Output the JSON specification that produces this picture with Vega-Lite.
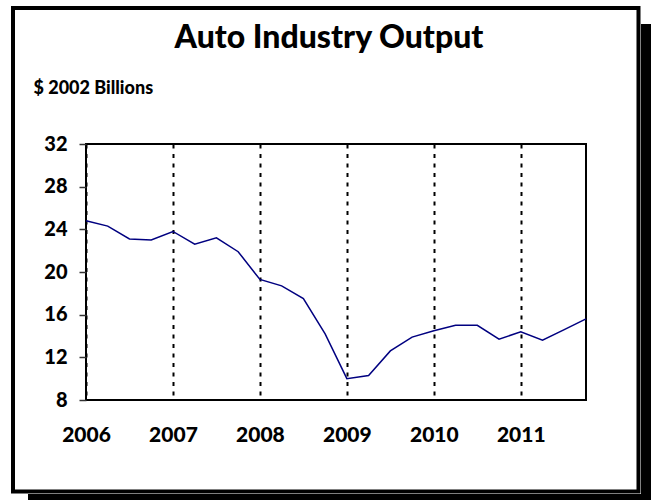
{
  "$schema": "https://vega.github.io/schema/vega-lite/v6.json",
  "width": 500,
  "height": 256,
  "autosize": {"type": "none"},
  "padding": {"left": 86, "top": 144, "right": 65, "bottom": 100},
  "background": "white",
  "title": {
    "text": "Auto Industry Output",
    "font": "Lato",
    "fontSize": 32,
    "fontWeight": 900,
    "color": "black",
    "anchor": "middle",
    "frame": "group",
    "dx": -7,
    "dy": 73,
    "offset": 24
  },
  "config": {
    "view": {"stroke": "black", "strokeWidth": 2}
  },
  "data": {
    "values": [
      {"t": 2006.0, "output": 24.8},
      {"t": 2006.25, "output": 24.3},
      {"t": 2006.5, "output": 23.1},
      {"t": 2006.75, "output": 23.0},
      {"t": 2007.0, "output": 23.8},
      {"t": 2007.25, "output": 22.6},
      {"t": 2007.5, "output": 23.2},
      {"t": 2007.75, "output": 21.9},
      {"t": 2008.0, "output": 19.3},
      {"t": 2008.25, "output": 18.7},
      {"t": 2008.5, "output": 17.5},
      {"t": 2008.75, "output": 14.2},
      {"t": 2009.0, "output": 10.0},
      {"t": 2009.25, "output": 10.3},
      {"t": 2009.5, "output": 12.6},
      {"t": 2009.75, "output": 13.9},
      {"t": 2010.0, "output": 14.5},
      {"t": 2010.25, "output": 15.0},
      {"t": 2010.5, "output": 15.0},
      {"t": 2010.75, "output": 13.7},
      {"t": 2011.0, "output": 14.4},
      {"t": 2011.25, "output": 13.6},
      {"t": 2011.5, "output": 14.6},
      {"t": 2011.75, "output": 15.6}
    ]
  },
  "layer": [
    {
      "data": {"values": [{}]},
      "mark": {"type": "rect", "color": "black"},
      "encoding": {
        "x": {"datum": 2012.3825, "type": "quantitative", "scale": {"domain": [2006, 2011.75], "nice": false, "zero": false}},
        "x2": {"datum": 2012.5435},
        "y": {"datum": 43.25, "type": "quantitative", "scale": {"domain": [8, 32], "nice": false, "zero": false}},
        "y2": {"datum": -1.844}
      }
    },
    {
      "data": {"values": [{}]},
      "mark": {"type": "rect", "color": "black"},
      "encoding": {
        "x": {"datum": 2005.333, "type": "quantitative", "scale": {"domain": [2006, 2011.75], "nice": false, "zero": false}},
        "x2": {"datum": 2012.5435},
        "y": {"datum": -0.8125, "type": "quantitative", "scale": {"domain": [8, 32], "nice": false, "zero": false}},
        "y2": {"datum": -1.844}
      }
    },
    {
      "data": {"values": [{}]},
      "mark": {"type": "rect", "filled": false, "stroke": "black", "strokeWidth": 4},
      "encoding": {
        "x": {"datum": 2005.1605, "type": "quantitative", "scale": {"domain": [2006, 2011.75], "nice": false, "zero": false}},
        "x2": {"datum": 2012.3537},
        "y": {"datum": 44.75, "type": "quantitative", "scale": {"domain": [8, 32], "nice": false, "zero": false}},
        "y2": {"datum": -0.578}
      }
    },
    {
      "mark": {"type": "line", "color": "#000080", "strokeWidth": 1.5},
      "encoding": {
        "x": {
          "field": "t",
          "type": "quantitative",
          "scale": {"domain": [2006, 2011.75], "nice": false, "zero": false},
          "axis": {
            "title": null,
            "values": [2006, 2007, 2008, 2009, 2010, 2011],
            "format": "d",
            "grid": true,
            "gridDash": [4, 5.5],
            "gridColor": "black",
            "gridWidth": 2,
            "gridOpacity": 1,
            "ticks": false,
            "domain": false,
            "labelFont": "Lato",
            "labelFontSize": 21,
            "labelFontWeight": 900,
            "labelColor": "black",
            "labelPadding": 24,
            "labelFlush": false,
            "labelDx": -2
          }
        },
        "y": {
          "field": "output",
          "type": "quantitative",
          "scale": {"domain": [8, 32], "nice": false, "zero": false},
          "axis": {
            "title": "$ 2002 Billions",
            "titleAngle": 0,
            "titleAlign": "left",
            "titleBaseline": "middle",
            "titleX": -53,
            "titleY": -56,
            "titleFont": "Lato",
            "titleFontSize": 18,
            "titleFontWeight": 900,
            "titleColor": "black",
            "values": [8, 12, 16, 20, 24, 28, 32],
            "grid": false,
            "domain": false,
            "ticks": true,
            "tickSize": 7,
            "tickWidth": 1.5,
            "tickColor": "#333",
            "labelFont": "Lato",
            "labelFontSize": 20,
            "labelFontWeight": 900,
            "labelColor": "black",
            "labelPadding": 12
          }
        }
      }
    }
  ]
}
